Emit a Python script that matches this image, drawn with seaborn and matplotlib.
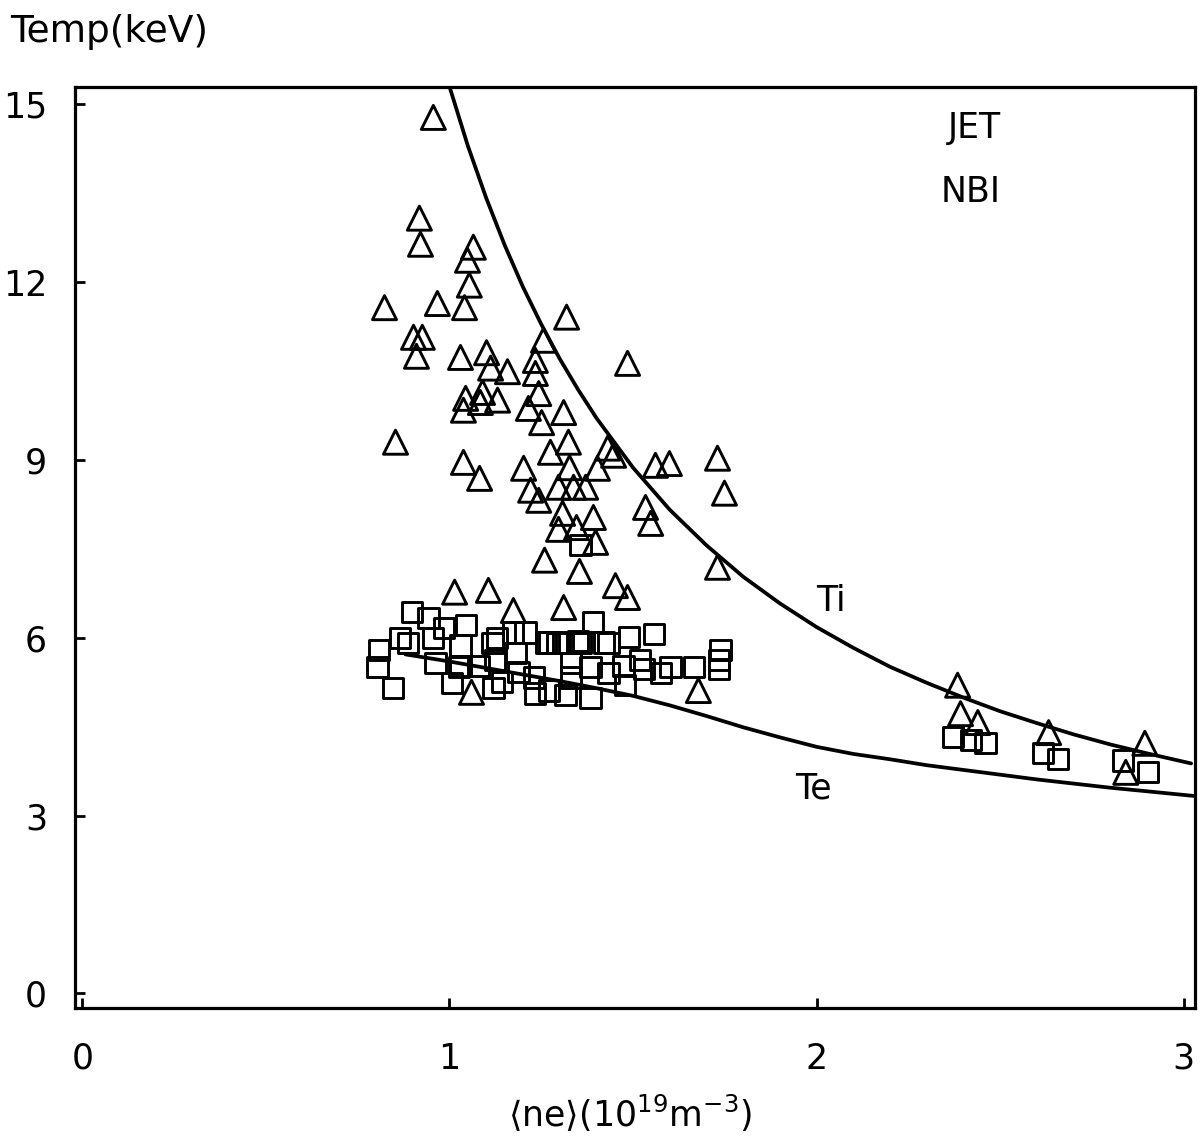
import matplotlib
matplotlib.use("Agg")
import matplotlib.pyplot as plt
import seaborn as sns
import pandas as pd

# Ion temperature (triangles): line-averaged density (1e19 m^-3), Ti (keV)
ti_density = [0.956, 0.918, 0.921, 1.065, 1.049, 1.054, 0.823, 0.967, 1.041, 1.319,
              0.902, 0.926, 0.910, 1.030, 1.101, 1.256, 1.485, 1.112, 1.158, 1.234,
              1.234, 1.044, 1.090, 1.131, 1.038, 1.084, 1.215, 1.243, 1.311, 1.251,
              0.853, 1.038, 1.082, 1.324, 1.275, 1.431, 1.447, 1.202, 1.327, 1.403,
              1.561, 1.599, 1.730, 1.749, 1.297, 1.338, 1.371, 1.221, 1.243, 1.534,
              1.548, 1.308, 1.392, 1.297, 1.346, 1.398, 1.259, 1.354, 1.452, 1.485,
              1.730, 1.014, 1.106, 1.174, 1.311, 1.060, 1.678, 2.384, 2.392, 2.439,
              2.632, 2.894, 2.842]
ti_temp = [14.78, 13.08, 12.64, 12.59, 12.37, 11.95, 11.57, 11.64, 11.57, 11.41,
           11.07, 11.07, 10.75, 10.73, 10.81, 11.02, 10.63, 10.55, 10.49, 10.68,
           10.46, 10.04, 10.14, 10.01, 9.84, 9.97, 9.87, 10.12, 9.80, 9.63,
           9.30, 8.96, 8.69, 9.30, 9.13, 9.20, 9.08, 8.86, 8.87, 8.86,
           8.91, 8.94, 9.03, 8.44, 8.54, 8.54, 8.54, 8.49, 8.32, 8.20,
           7.93, 8.10, 8.03, 7.83, 7.86, 7.61, 7.31, 7.12, 6.88, 6.68,
           7.19, 6.77, 6.80, 6.46, 6.51, 5.08, 5.11, 5.20, 4.72, 4.57,
           4.40, 4.22, 3.73]

# Electron temperature (squares): density, Te (keV)
te_density = [0.899, 0.943, 0.984, 1.044, 0.866, 0.888, 0.954, 0.807, 0.804, 0.847,
              0.962, 1.030, 1.030, 1.008, 1.079, 1.117, 1.125, 1.144, 1.174, 1.207,
              1.180, 1.188, 1.262, 1.294, 1.234, 1.229, 1.270, 1.316, 1.330, 1.330,
              1.357, 1.390, 1.433, 1.384, 1.384, 1.433, 1.474, 1.488, 1.529, 1.556,
              1.602, 1.665, 1.733, 1.738, 1.733, 1.357, 1.025, 1.120, 1.270, 1.310,
              1.350, 1.420, 1.520, 1.575, 1.130, 1.478,
              2.371, 2.420, 2.460, 2.616, 2.657, 2.834, 2.902]
te_temp = [6.43, 6.33, 6.16, 6.21, 5.99, 5.91, 5.99, 5.79, 5.50, 5.16,
           5.57, 5.87, 5.53, 5.23, 5.53, 5.91, 5.62, 5.25, 6.09, 6.09,
           5.74, 5.42, 5.92, 5.91, 5.06, 5.33, 5.11, 5.03, 5.57, 5.33,
           5.91, 6.26, 5.91, 4.99, 5.50, 5.40, 5.53, 6.01, 5.48, 6.07,
           5.50, 5.50, 5.62, 5.79, 5.48, 7.56, 5.50, 5.15, 5.92, 5.92,
           5.95, 5.92, 5.62, 5.40, 6.00, 5.20,
           4.32, 4.27, 4.23, 4.05, 3.96, 3.93, 3.73]

# Fitted scaling curves
ti_fit_density = [1.00, 1.05, 1.10, 1.15, 1.20, 1.25, 1.30, 1.35, 1.40, 1.50, 1.60, 1.70,
                  1.80, 1.90, 2.00, 2.10, 2.20, 2.30, 2.40, 2.50, 2.60, 2.70, 2.80,
                  2.90, 3.02]
ti_fit_temp = [15.30, 14.30, 13.42, 12.63, 11.92, 11.29, 10.71, 10.19, 9.71, 8.87, 8.16,
               7.56, 7.03, 6.58, 6.18, 5.83, 5.51, 5.24, 4.99, 4.76, 4.56, 4.37, 4.20,
               4.05, 3.88]
te_fit_density = [0.88, 1.00, 1.10, 1.20, 1.30, 1.40, 1.50, 1.60, 1.70, 1.80, 1.90, 2.00,
                  2.10, 2.20, 2.30, 2.40, 2.50, 2.60, 2.70, 2.80, 2.90, 3.03]
te_fit_temp = [5.72, 5.60, 5.49, 5.38, 5.27, 5.15, 5.02, 4.86, 4.68, 4.49, 4.32, 4.16,
               4.04, 3.95, 3.85, 3.77, 3.69, 3.61, 3.54, 3.47, 3.41, 3.33]

x_ticks = [0, 1, 2, 3]
y_ticks = [0, 3, 6, 9, 12, 15]

sns.set_theme(style="white")
plt.rcParams["font.family"] = ["DejaVu Sans"]
plt.rcParams["mathtext.fontset"] = "dejavusans"
plt.rcParams["text.color"] = "black"

fig = plt.figure(figsize=(12.02, 11.47), dpi=100)
ax = fig.add_axes([0.0624, 0.121, 0.9316, 0.803])

ti_df = pd.DataFrame({"ne": ti_density, "T": ti_temp})
te_df = pd.DataFrame({"ne": te_density, "T": te_temp})

sns.scatterplot(data=te_df, x="ne", y="T", marker="s", s=210, ax=ax,
                color="black", linewidth=2.1, zorder=3)
ax.collections[-1].set_facecolor("none")
ax.collections[-1].set_edgecolor("black")

sns.scatterplot(data=ti_df, x="ne", y="T", marker="^", s=300, ax=ax,
                color="black", linewidth=2.1, zorder=3)
ax.collections[-1].set_facecolor("none")
ax.collections[-1].set_edgecolor("black")

sns.lineplot(x=ti_fit_density, y=ti_fit_temp, ax=ax, color="black", linewidth=2.7,
             sort=False, zorder=4)
sns.lineplot(x=te_fit_density, y=te_fit_temp, ax=ax, color="black", linewidth=2.7,
             sort=False, zorder=4)

ax.set_xlim(-0.02, 3.03)
ax.set_ylim(-0.25, 15.29)
ax.set_xticks(x_ticks)
ax.set_yticks(y_ticks)
ax.set_xticklabels([str(v) for v in x_ticks])
ax.set_yticklabels([str(v) for v in y_ticks])
ax.tick_params(axis="both", direction="in", length=7, width=2, labelsize=25,
               colors="black", bottom=True, left=True, top=False, right=False)
ax.tick_params(axis="y", pad=20)
ax.tick_params(axis="x", pad=24)
for side in ["left", "right", "top", "bottom"]:
    ax.spines[side].set_visible(True)
    ax.spines[side].set_color("black")
    ax.spines[side].set_linewidth(2.3)
ax.set_xlabel("")
ax.set_ylabel("")

ax.text(2.43, 14.6, "JET", fontsize=25, ha="center", va="center", color="black")
ax.text(2.42, 13.52, "NBI", fontsize=25, ha="center", va="center", color="black")
ax.text(2.04, 6.62, "Ti", fontsize=25, ha="center", va="center", color="black")
ax.text(1.99, 3.45, "Te", fontsize=25, ha="center", va="center", color="black")

fig.text(10 / 1202, 1 - 32 / 1147, "Temp(keV)", fontsize=27, ha="left",
         va="center", color="black")
fig.text(630 / 1202, 1 - 1113 / 1147,
         r"$\langle$ne$\rangle$(10$^{19}$m$^{-3}$)", fontsize=25,
         ha="center", va="center", color="black")

fig.savefig("out.png", dpi=100, facecolor="white")
